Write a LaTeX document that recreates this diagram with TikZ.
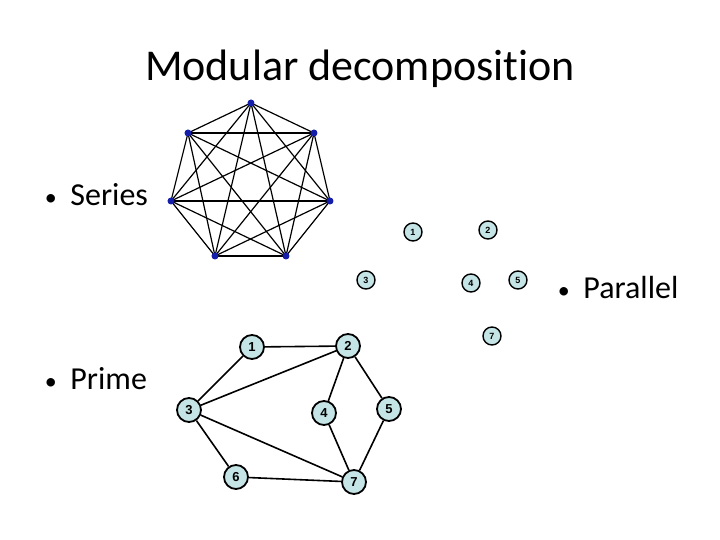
\documentclass[tikz,border=0pt]{standalone}
\usepackage{fontspec}
\setmainfont[Ligatures=NoCommon]{Carlito}
\setsansfont{Liberation Sans}
\definecolor{vtxfill}{RGB}{196,228,230}
\definecolor{dotblue}{RGB}{20,30,170}
\newcommand{\itembul}{\llap{\fontsize{12}{12}\selectfont\textbullet\hspace{6.8pt}}}

\begin{document}
\begin{tikzpicture}[x=0.5pt,y=-0.5pt,
  dot/.style={circle,fill=dotblue,inner sep=0pt,minimum size=3.5pt},
  bigv/.style={circle,draw,line width=0.9pt,fill=vtxfill,inner sep=0pt,minimum size=12pt,font=\sffamily\bfseries\fontsize{6.5}{6.5}\selectfont},
  smallv/.style={circle,draw,line width=0.7pt,fill=vtxfill,inner sep=0pt,minimum size=9pt,font=\sffamily\bfseries\fontsize{4.5}{4.5}\selectfont},
  item/.style={anchor=base west,inner sep=0pt,font=\fontsize{16}{16}\selectfont}]
 \useasboundingbox (0,0) rectangle (720,540);
 \node[font=\fontsize{22}{22}\selectfont] (title) at (360,69) {Modular decomposition};
 % labels
 \node[item] (ser) at (70,206) {\itembul Series};
 \node[item] (par) at (583,299) {\itembul Parallel};
 \node[item] (pri) at (70,390) {\itembul Prime};
 % series: complete graph
 \coordinate (s1) at (251,103); \coordinate (s2) at (314,133); \coordinate (s3) at (330,201);
 \coordinate (s4) at (286,256); \coordinate (s5) at (215,256); \coordinate (s6) at (171,201);
 \coordinate (s7) at (188,133);
 \foreach \i in {1,...,6}{
  \pgfmathtruncatemacro\k{\i+1}
  \foreach \j in {\k,...,7} \draw[line width=0.6pt] (s\i) -- (s\j);
 }
 \foreach \i in {1,...,7} \node[dot] at (s\i) {};
 % parallel
 \node[smallv] (p1) at (413,232) {1}; \node[smallv] (p2) at (488,230) {2};
 \node[smallv] (p3) at (366,280) {3}; \node[smallv] (p4) at (471,283) {4};
 \node[smallv] (p5) at (518,280) {5}; \node[smallv] (p7) at (492,336) {7};
 % prime
 \node[bigv] (q1) at (252,347) {1}; \node[bigv] (q2) at (348,346) {2};
 \node[bigv] (q3) at (189,410) {3}; \node[bigv] (q4) at (324,413) {4};
 \node[bigv] (q5) at (389,409) {5}; \node[bigv] (q6) at (236,477) {6};
 \node[bigv] (q7) at (354,482) {7};
 \foreach \a/\b in {1/2,1/3,2/3,2/4,2/5,3/6,3/7,4/7,5/7,6/7}
  \draw[line width=0.8pt] (q\a) -- (q\b);
\end{tikzpicture}
\end{document}
